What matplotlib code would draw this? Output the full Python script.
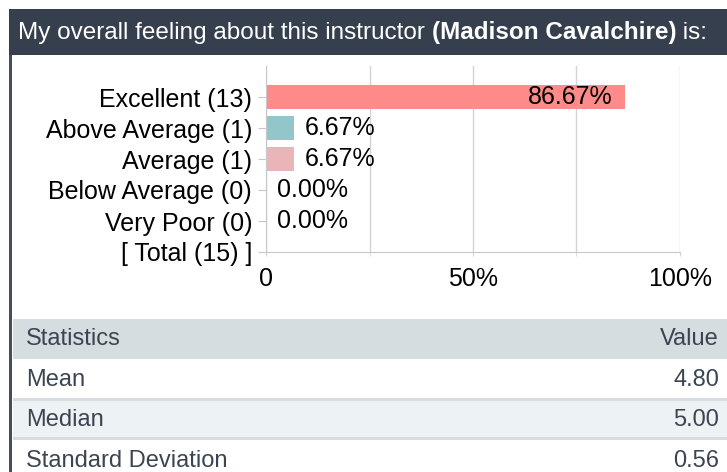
import matplotlib
matplotlib.use("Agg")
import matplotlib.pyplot as plt
from matplotlib.patches import Rectangle

categories = ["Excellent (13)", "Above Average (1)", "Average (1)",
              "Below Average (0)", "Very Poor (0)", "[ Total (15) ]"]
percentages = [86.67, 6.67, 6.67, 0.00, 0.00]
bar_colors = ["#FF8A8A", "#93C6C8", "#E9B5B9", "#cccccc", "#cccccc"]
x_ticks = [0, 50, 100]
x_tick_labels = ["0", "50%", "100%"]
title_plain = "My overall feeling about this instructor "
title_bold = "(Madison Cavalchire)"
title_end = " is:"
stat_header = ["Statistics", "Value"]
stat_names = ["Mean", "Median", "Standard Deviation"]
stat_values = ["4.80", "5.00", "0.56"]

W, H = 727, 472
fig = plt.figure(figsize=(W / 100, H / 100), dpi=100)
fig.patch.set_facecolor("white")
plt.rcParams["font.family"] = ["Liberation Sans", "DejaVu Sans"]
FS = 18


def fx(px):
    return px / W


def fy(py):
    return 1 - py / H


# header bar
fig.patches.append(Rectangle((fx(9), fy(55)), fx(W - 9), (55 - 9) / H,
                             transform=fig.transFigure, facecolor="#353F4D",
                             edgecolor="none", zorder=0))
# left border
fig.patches.append(Rectangle((fx(9), 0), fx(3), fy(55),
                             transform=fig.transFigure, facecolor="#444E5C",
                             edgecolor="none", zorder=0))

t1 = fig.text(fx(18), fy(33), title_plain, color="white", fontsize=17.5,
              va="center", ha="left")
fig.canvas.draw()
r = fig.canvas.get_renderer()
bb = t1.get_window_extent(r)
t2 = fig.text(bb.x1 / W, fy(33), title_bold, color="white", fontsize=17.5,
              fontweight="bold", va="center", ha="left")
bb2 = t2.get_window_extent(r)
fig.text(bb2.x1 / W, fy(33), title_end, color="white", fontsize=17.5,
         va="center", ha="left")

# chart axes
ax = fig.add_axes([fx(266), fy(252), fx(680 - 266), (252 - 66) / H])
ypos = list(range(len(categories)))
ax.barh(ypos[:len(percentages)], percentages, height=0.78,
        color=bar_colors[:len(percentages)], zorder=2)
ax.set_xlim(0, 100)
ax.set_ylim(5, -1)
ax.set_yticks(ypos)
ax.set_yticklabels(categories, fontsize=FS)
ax.set_xticks(x_ticks)
ax.set_xticklabels(x_tick_labels, fontsize=FS)
ax.set_xticks([25, 75], minor=True)
ax.grid(axis="x", which="both", color="#D4D4D4", linewidth=1, zorder=0)
for s in ["top", "right"]:
    ax.spines[s].set_visible(False)
for s in ["left", "bottom"]:
    ax.spines[s].set_color("#C8C8C8")
ax.tick_params(axis="y", length=6, color="#C8C8C8", pad=4)
ax.tick_params(axis="x", which="both", length=3, color="#D4D4D4", pad=8)

for i, v in enumerate(percentages):
    label = f"{v:.2f}%"
    if v > 50:
        ax.text(v - 3, i, label, ha="right", va="center", fontsize=FS,
                color="black", zorder=3)
    else:
        ax.text(v + 2.6, i, label, ha="left", va="center", fontsize=FS,
                color="black", zorder=3)

# statistics table
tc = "#3B4551"
TFS = 17
rows = [(319, 359, "#D6DDE1"), (359, 398, "#FFFFFF"), (398, 401, "#D6DDE1"),
        (401, 437, "#EDF2F5"), (437, 440, "#D6DDE1"), (440, 472, "#FFFFFF")]
for y0, y1, c in rows:
    fig.patches.append(Rectangle((fx(13), fy(y1)), fx(W - 13), (y1 - y0) / H,
                                 transform=fig.transFigure, facecolor=c,
                                 edgecolor="none", zorder=0))
fig.text(fx(26), fy(339), stat_header[0], color=tc, fontsize=TFS,
         va="center", ha="left")
fig.text(fx(719), fy(339), stat_header[1], color=tc, fontsize=TFS,
         va="center", ha="right")
centers = [380, 420, 461]
for name, val, cy in zip(stat_names, stat_values, centers):
    fig.text(fx(26), fy(cy), name, color=tc, fontsize=TFS, va="center",
             ha="left")
    fig.text(fx(719), fy(cy), val, color=tc, fontsize=TFS, va="center",
             ha="right")

fig.savefig("out.png", dpi=100)
